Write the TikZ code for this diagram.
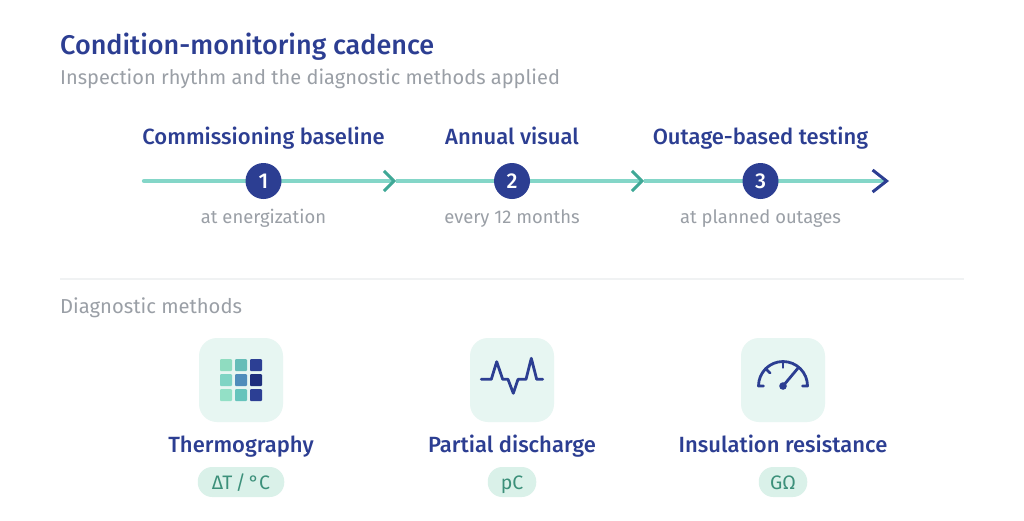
\documentclass[tikz,border=0pt]{standalone}
\usepackage{fontspec}
\setmainfont{Fira Sans}
\newfontfamily\medfont{Fira Sans Medium}
\usetikzlibrary{arrows.meta}
\definecolor{navy}{HTML}{2C3E92}
\definecolor{tealline}{HTML}{84D6C8}
\definecolor{tealtip}{HTML}{3FA896}
\definecolor{greytxt}{HTML}{9A9FA6}
\definecolor{tilebg}{HTML}{E7F6F2}
\definecolor{pillbg}{HTML}{DAF1E9}
\definecolor{pilltxt}{HTML}{3C907A}
\definecolor{rulec}{HTML}{F0F2F3}
\newcommand{\fs}[1]{\fontsize{#1}{#1}\selectfont}
\tikzset{x=1pt,y=-1pt,
 titletxt/.style={anchor=base west,text=navy,inner sep=0pt,font=\medfont\fs{27}},
 subtxt/.style={anchor=base west,text=greytxt,inner sep=0pt,font=\fs{20}},
 headtxt/.style={anchor=base,text=navy,inner sep=0pt,font=\medfont\fs{22}},
 smalltxt/.style={anchor=base,text=greytxt,inner sep=0pt,font=\fs{18.4}},
 stepdot/.style={circle,fill=navy,minimum size=36pt,inner sep=0pt},
 stepnum/.style={anchor=base,text=white,inner sep=0pt,font=\medfont\fs{21.5}},
 link/.style={draw=tealline,line width=4.3pt},
 tealarrow/.style={link,-{Straight Barb[color=tealtip,length=10pt,width=20pt,line width=3pt]}},
 navyarrow/.style={link,-{Straight Barb[color=navy,length=14pt,width=22pt,line width=3pt]}},
 tile/.style={rounded corners=18pt,fill=tilebg,minimum width=84pt,minimum height=84pt,inner sep=0pt},
 pillbox/.style={rounded corners=14.5pt,fill=pillbg,minimum height=30pt,inner sep=0pt},
 pilltext/.style={anchor=base,text=pilltxt,inner sep=0pt,font=\fs{19.5}},
 icon/.style={draw=navy,line width=2.8pt,line join=round,line cap=round},
 sq/.style={rounded corners=1pt,minimum size=12pt,inner sep=0pt},
}
\begin{document}
\begin{tikzpicture}
\useasboundingbox[fill=white] (0,0) rectangle (1024,520);
\node[titletxt] (title) at (60,54) {Condition-monitoring cadence};
\node[subtxt] (subtitle) at (60,84) {Inspection rhythm and the diagnostic methods applied};

\coordinate (s0) at (144,181);
\coordinate (a1) at (396,181);
\coordinate (a2) at (644,181);
\coordinate (a3) at (889,181);
\coordinate (k1) at (263.5,181);
\coordinate (k2) at (512,181);
\coordinate (k3) at (760.5,181);
\draw[link,line cap=round] (s0) -- (k1);
\draw[tealarrow] (k1) -- (a1);
\draw[link] (a1) -- (k2);
\draw[tealarrow] (k2) -- (a2);
\draw[link] (a2) -- (k3);
\draw[navyarrow] (k3) -- (a3);
\node[stepdot] (c1) at (k1) {};
\node[stepdot] (c2) at (k2) {};
\node[stepdot] (c3) at (k3) {};
\node[stepnum] (n1) at (263.5,188.5) {1};
\node[stepnum] (n2) at (512,188.5) {2};
\node[stepnum] (n3) at (760.5,188.5) {3};

\node[headtxt] (h1) at (263.5,144.5) {Commissioning baseline};
\node[headtxt] (h2) at (512,144.5) {Annual visual};
\node[headtxt] (h3) at (760.5,144.5) {Outage-based testing};
\node[smalltxt] (l1) at (263.5,223) {at energization};
\node[smalltxt] (l2) at (512,223) {every 12 months};
\node[smalltxt] (l3) at (760.5,223) {at planned outages};

\coordinate (r0) at (60,279);
\coordinate (r1) at (964,279);
\draw[rulec,line width=1.2pt] (r0) -- (r1);
\node[subtxt,font=\fs{20.2}] (diag) at (60,313) {Diagnostic methods};

\node[tile] (t1) at (241,380) {};
\node[tile] (t2) at (512,380) {};
\node[tile] (t3) at (783,380) {};

% thermography grid
\foreach \col/\xx/\yy in {8FDCC0/226/365,66BDB8/241/365,2C3F94/256/365,
 7FD4C4/226/380,4F8DBB/241/380,1E2F7D/256/380,
 93E0C6/226/395,66C4BC/241/395,2C3F94/256/395}{
  \definecolor{sqc}{HTML}{\col}
  \node[sq,fill=sqc] at (\xx,\yy) {};
}
% pulse
\draw[icon] (481.3,379.3) -- (491.3,379.3) -- (496.7,361.7) -- (502.7,379.3) -- (508,379.3) -- (513.3,393.3) -- (518,379.3) -- (526,379.3) -- (531.3,358.3) -- (536.7,379.3) -- (542.7,379.3);
% gauge
\draw[icon] (763.5,386) -- (758.5,386) arc[start angle=180,end angle=360,radius=24.5] -- (802.5,386);
\draw[icon] (783,362) -- (783,367.5);
\draw[icon] (766,369) -- (770,373);
\draw[icon] (783,386) -- (798.5,367.5);
\fill[navy] (783,386) circle (3.8);

\node[headtxt] (m1) at (241,452) {Thermography};
\node[headtxt] (m2) at (512,452) {Partial discharge};
\node[headtxt] (m3) at (783,452) {Insulation resistance};
\node[pillbox,minimum width=86.5pt] (p1) at (241,482) {};
\node[pillbox,minimum width=48.5pt] (p2) at (512,482) {};
\node[pillbox,minimum width=48.5pt] (p3) at (783,482) {};
\node[pilltext] (q1) at (241,489) {ΔT\,/\,°C};
\node[pilltext] (q2) at (512,489) {pC};
\node[pilltext] (q3) at (783,489) {GΩ};
\end{tikzpicture}
\end{document}
